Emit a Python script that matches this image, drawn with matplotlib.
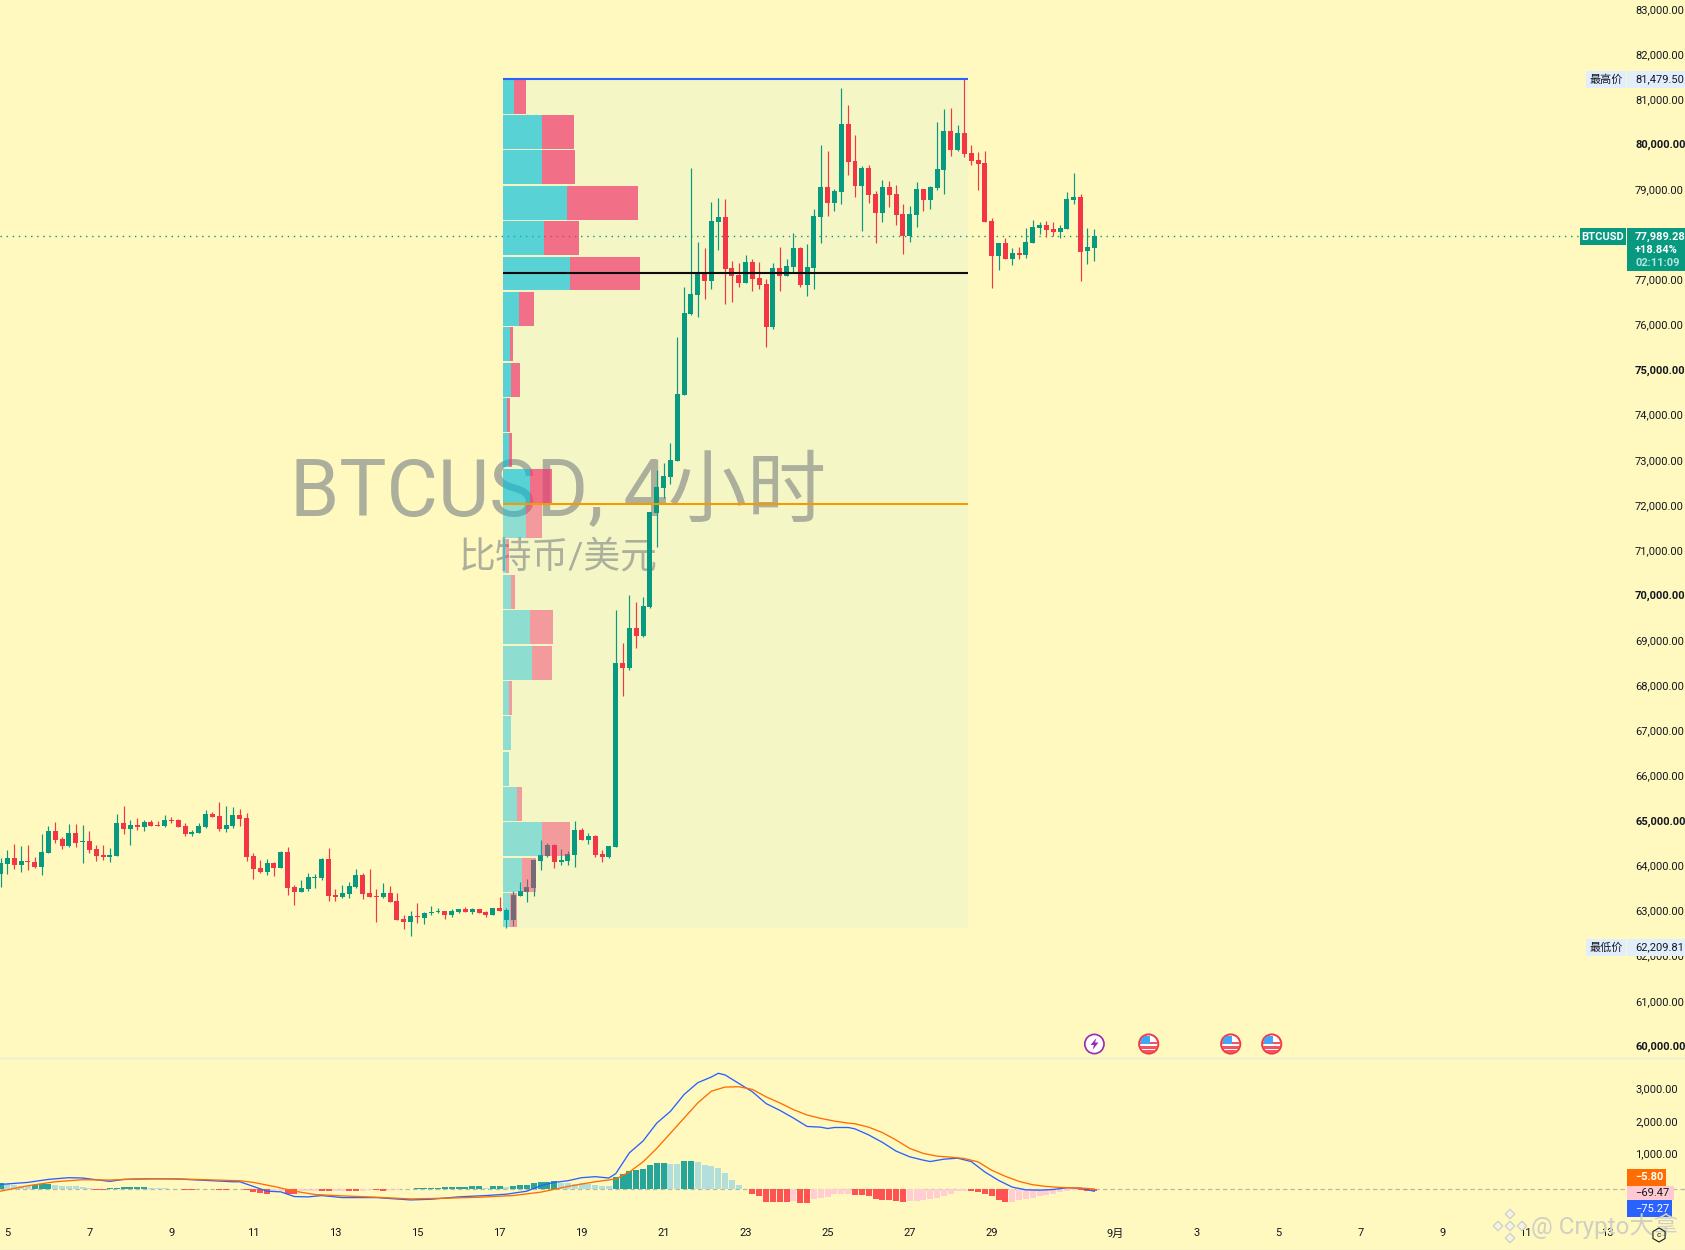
import matplotlib
matplotlib.use("Agg")
import matplotlib.pyplot as plt
from matplotlib.patches import Circle, Polygon, Rectangle, RegularPolygon
from matplotlib.transforms import ScaledTranslation

plt.rcParams['font.family'] = ['Roboto', 'Noto Sans CJK SC', 'DejaVu Sans']

# 4h candles
opens = [63845,64067,64200,64045,64133,64111,64000,64311,64799,64621,
         64466,64755,64555,64577,64400,64267,64222,64244,64976,64843,
         64932,64888,64998,64932,64910,65043,65043,64910,64732,64755,
         64888,65176,65132,64843,64910,65154,65087,64244,63978,63890,
         64089,63978,64333,63557,63446,63512,63756,63756,64178,63380,
         63335,63402,63557,63823,63424,63357,63335,63424,63246,62847,
         62781,62914,62869,62980,63002,63025,62936,63002,63069,63002,
         63069,63002,62936,63091,62825,62825,63357,63446,63535,64133,
         64244,64488,64111,64137,64272,64824,64595,64680,64289,64230,
         64451,68525,68423,69297,69127,69772,71852,72412,72658,73006,
         74475,76267,76688,77176,76998,78307,78418,77287,77131,76954,
         77420,77065,76932,75978,77287,77109,77309,77730,76910,77287,
         78418,79083,78728,78972,80481,79660,79105,79505,78928,78507,
         79083,78928,78484,77996,78462,79039,78795,79061,79460,80325,
         79904,80281,79837,79682,79616,78329,77553,77841,77486,77619,
         77575,77841,78174,78240,78152,78085,78152,78795,78861,77664,
         77730]
highs = [64193,64377,64511,64466,64488,64222,64732,64910,64998,64666,
         64954,64954,64932,64799,64488,64488,64422,65176,65353,65043,
         65087,65043,65043,65021,65154,65109,65065,64976,64821,64976,
         65265,65220,65442,65353,65331,65287,65198,64304,64156,64178,
         64111,64355,64444,63601,63712,63867,63845,64200,64422,63512,
         63601,63668,63956,63867,63956,63512,63646,63579,63424,62936,
         63025,63202,63002,63135,63091,63025,63069,63069,63113,63091,
         63069,63025,63091,63335,63091,63468,63668,63734,64178,64599,
         64533,64511,64400,64349,65011,64858,64756,64705,64374,64476,
         69705,68966,70036,69874,69993,71878,72803,72964,73405,75756,
         76865,79505,77863,77730,78751,78839,78817,77442,77398,77575,
         77486,77420,77043,77398,77753,77486,78063,77753,77819,78595,
         80015,79882,79039,81279,80902,80237,79549,79571,78995,79238,
         79216,79128,78706,78662,79194,79039,79105,80525,80813,80835,
         80458,81479,80015,79859,79882,78396,77841,77952,77730,77753,
         78174,78351,78307,78329,78307,78240,78972,79394,78928,78174,
         78152]
lows = [63557,63845,63956,63890,63934,63978,63823,64311,64533,64400,
        64444,64444,64089,64311,64133,64156,64111,64244,64732,64488,
        64821,64799,64910,64910,64888,64976,64888,64688,64688,64755,
        64865,65109,64799,64777,64865,64910,64133,63734,63867,63823,
        63801,63978,63380,63158,63446,63468,63535,63712,63246,63246,
        63313,63313,63535,63291,63335,62781,63313,63224,62825,62625,
        62470,62758,62736,62936,62980,62847,62891,62980,63002,62958,
        62980,62891,62936,63025,62647,62692,63357,63224,63357,63934,
        64215,63978,64035,64052,64009,64603,64518,64230,64120,64204,
        64434,67803,68380,68864,69110,69755,71088,72183,72497,73006,
        74460,76244,76200,76599,76821,77686,76488,76533,76865,76954,
        76777,76821,75535,75934,76777,77109,77198,76865,76666,76821,
        77841,78440,78551,78706,79349,78862,78107,78728,77841,78307,
        78640,78240,77597,77863,78196,78551,78595,79017,78928,79771,
        79882,79749,79571,79017,78307,76843,77242,77486,77353,77486,
        77509,77841,78041,77974,77996,77952,78152,78706,76998,77376,
        77442]
closes = [64089,64200,64045,64133,64111,64000,64333,64799,64599,64466,
          64755,64533,64577,64377,64244,64222,64267,64976,64843,64932,
          64888,64998,64910,64910,65043,65021,64888,64732,64777,64910,
          65176,65109,64843,64932,65154,65065,64222,63956,63890,64089,
          63978,64333,63535,63446,63535,63779,63779,64178,63357,63335,
          63424,63579,63823,63402,63335,63335,63424,63224,62825,62781,
          62914,62891,62980,63002,63025,62936,63025,63069,63002,63069,
          62980,62936,63091,63025,63047,63380,63468,63557,64156,64267,
          64488,64111,64162,64281,64824,64603,64688,64272,64221,64468,
          68525,68414,69297,69127,69789,71878,72429,72675,73032,74492,
          76289,76710,77176,76998,78329,78418,77265,77109,76954,77420,
          77043,76910,75978,77287,77109,77331,77730,76910,77309,78440,
          79083,78728,78995,80481,79638,79105,79505,78906,78507,79083,
          78906,78462,77996,78484,79039,78795,79083,79482,80325,79904,
          80281,79815,79660,79593,78307,77553,77841,77486,77619,77575,
          77863,78196,78240,78130,78085,78174,78817,78861,77642,77753,
          77989]

# volume profile rows, top row first (row width read as volume)
vp_up = [11.1,39,39,63.9,40.9,67,16,6.9,8,4,6.3,27,
         23,3.3,8,27,29,6.3,8,6,14,39,19,7]
vp_down = [11.9,31.8,32.9,71.2,34.8,70,14.9,3.1,9,3,2.7,22.3,
           16,2.7,4,23,20,2.7,0,0,5,28,14,7]
vp_high = 81479.5
vp_low = 62651
poc_price = 77183
val_price = 72056
last_price = 77989.28

price_ticks = list(range(60000, 84000, 1000))

# MACD pane
hist = [175,134,113,93,72,113,134,134,103,93,93,72,41,21,-31,-31,21,31,41,41,
        41,41,31,31,21,-10,-21,-31,-31,-21,-21,-10,-31,-31,-10,-10,-31,-93,-134,-155,
        -72,-52,-155,-165,-62,-72,-82,-72,-82,-62,-62,-72,-62,-52,-31,-41,-62,-41,-31,-21,
        -10,10,10,21,21,41,52,52,62,82,82,31,72,82,52,93,113,124,165,196,
        196,227,185,165,155,165,155,103,82,82,350,443,536,567,597,721,783,783,752,752,
        845,845,824,721,690,628,484,278,124,-10,-144,-227,-391,-391,-412,-412,-371,-443,-443,-309,
        -278,-247,-155,-144,-144,-175,-185,-227,-309,-330,-330,-361,-412,-381,-361,-330,-309,-278,-227,-155,
        -82,-52,-62,-103,-144,-206,-340,-412,-391,-350,-309,-268,-227,-185,-144,-103,-62,-31,-41,-52,
        -69]
hist_strong = [0,5,6,7,14,15,16,17,18,19,20,21,25,26,27,28,32,33,36,37,38,39,42,43,47,48,51,52,55,56,
               61,62,63,64,65,66,67,68,69,70,72,73,75,76,77,78,79,80,81,
               90,91,92,93,94,95,96,97,100,101,109,110,111,112,113,114,115,117,118,
               125,126,127,128,129,130,131,132,142,143,144,145,146,147,158,159,160]

macd_x = [0,4,7,10,12,14,16,18,22,26,30,34,35,37,39,41,43,45,47,50,55,60,63,67,71,74,77,79,81,83,
          85,87,89,90,92,94,96,98,100,102,104,105,106,108,110,112,114,116,118,120,121,122,124,
          125,127,129,131,133,135,136,138,140,142,144,146,148,150,152,154,156,158,160]
macd_line = [134,196,288,340,330,278,227,288,309,299,258,216,216,72,-72,-93,-237,-247,-206,-268,
             -268,-340,-319,-247,-206,-165,-72,93,196,247,340,371,330,464,1102,1463,2009,2369,2884,3245,
             3420,3533,3481,3224,2966,2606,2400,2163,1906,1885,1844,1875,1875,
             1833,1648,1421,1154,979,876,834,906,937,834,515,258,52,-31,-41,-21,31,21,-75]
signal_x = [0,4,8,12,16,20,25,30,35,37,40,43,46,50,55,60,65,70,75,79,83,87,90,92,94,96,98,100,102,
            104,106,108,110,112,114,116,118,120,122,124,125,127,129,131,133,135,137,139,141,143,145,
            147,149,151,153,155,157,159,160]
signal_line = [-72,93,216,278,268,299,309,278,247,196,72,-72,-175,-216,-258,-309,-288,-258,-206,-103,
               72,216,299,515,824,1236,1700,2163,2627,2987,3111,3121,3039,2812,2627,2421,2256,2153,2070,2009,
               1988,1885,1720,1494,1236,1082,999,968,927,824,567,381,227,124,72,41,31,10,-6]
macd_ticks = [1000, 2000, 3000]

# time axis: bar index of each date label
date_pos = [1,13,25,37,49,61,73,85,97,109,121,133,145,163,175,187,199,211,223,235]
date_labels = ['5','7','9','11','13','15','17','19','21','23','25','27','29',
               '9月','3','5','7','9','11','13']

BG = '#fff9c0'
GREEN = '#089981'
RED = '#f23645'
INK = '#131722'
W, H = 1685, 1250
PANE = 1058
BAR_PX = 6.836

fig = plt.figure(figsize=(W / 100, H / 100), dpi=100, facecolor=BG)
ax = fig.add_axes([0, 1 - PANE / H, 1, PANE / H], facecolor=BG)
ax2 = fig.add_axes([0, 0, 1, 1 - PANE / H], facecolor=BG)
ov = fig.add_axes([0, 0, 1, 1], zorder=10)  # pixel overlay for the tags and icons
ov.set_xlim(0, W)
ov.set_ylim(H, 0)
ov.axis('off')

x_min, x_max = -0.5 / BAR_PX, (W - 0.5) / BAR_PX
for a in (ax, ax2):
    a.set_xlim(x_min, x_max)
    for s in a.spines.values():
        s.set_visible(False)
ax.set_ylim(59764, 83231)
ax2.set_ylim(-1871, 4000)

# price pane
vp_left, vp_right = 73.5, 141.5
ax.add_patch(Rectangle((vp_left, vp_low), vp_right - vp_left, vp_high - vp_low,
                       facecolor='#f4f6c6', edgecolor='none', zorder=1))
ax.text(558, 493, 'BTCUSD, 4小时', transform=ov.transData, fontsize=57, color='#abaf9b',
        ha='center', va='center', zorder=2)
ax.text(558, 557, '比特币/美元', transform=ov.transData, fontsize=26.5, color='#abaf9b',
        ha='center', va='center', zorder=2)
ax.hlines(last_price, x_min, (1580 - 0.5) / BAR_PX, color=GREEN, lw=1,
          linestyle=(0, (1, 3.4)), zorder=2.5)

x = list(range(len(opens)))
colors = [GREEN if c >= o else RED for o, c in zip(opens, closes)]
ax.vlines(x, lows, highs, color=colors, lw=0.85, zorder=3)
ax.bar(x, [abs(c - o) for o, c in zip(opens, closes)], bottom=[min(o, c) for o, c in zip(opens, closes)],
       width=0.73, color=colors, zorder=3)

# volume profile sits on top of the candles
row_h = (vp_high - vp_low) / len(vp_up)
for i in range(len(vp_up)):
    y = vp_high - row_h * (i + 0.5)
    strong = i < 12
    u = vp_up[i] / BAR_PX
    d = vp_down[i] / BAR_PX
    ax.barh(y, u, left=vp_left, height=row_h * 0.96, color='#00bfde',
            alpha=0.64 if strong else 0.42, zorder=4)
    ax.barh(y, d, left=vp_left + u, height=row_h * 0.96, color='#f2366e',
            alpha=0.7 if strong else 0.47, zorder=4)

ax.hlines(vp_high, vp_left, vp_right, color='#2962ff', lw=1.5, zorder=5)
ax.hlines(poc_price, vp_left, vp_right, color='#0c0c0c', lw=1.5, zorder=5)
ax.hlines(val_price, vp_left, vp_right, color='#f59a00', lw=1.5, zorder=5)

ax.yaxis.tick_right()
ax.set_yticks(price_ticks)
ax.set_yticklabels([f'{p:,.2f}' for p in price_ticks])
ax.tick_params(axis='y', length=0, pad=-36, labelsize=8, labelcolor=INK)
ax.set_xticks([])
shift = ScaledTranslation(0, 1.5 / 100, fig.dpi_scale_trans)
for p, lbl in zip(price_ticks, ax.get_yticklabels()):
    lbl.set_transform(lbl.get_transform() + shift)
    if p % 5000 == 0:
        lbl.set_fontweight('bold')

# MACD pane
ax2.axhline(0, color='#b8b8a8', lw=0.9, linestyle=(0, (3.5, 2.5)), zorder=1)
hist_colors = []
for i, v in enumerate(hist):
    if v >= 0:
        hist_colors.append('#26a69a' if i in hist_strong else '#b2dfdb')
    else:
        hist_colors.append('#ff5252' if i in hist_strong else '#ffcdd2')
ax2.bar(range(len(hist)), hist, width=0.88, color=hist_colors, zorder=2)
ax2.plot(macd_x, macd_line, color='#2962ff', lw=0.95, zorder=3)
ax2.plot(signal_x, signal_line, color='#ff6d00', lw=0.95, zorder=3)

ax2.yaxis.tick_right()
ax2.set_yticks(macd_ticks)
ax2.set_yticklabels([f'{v:,.2f}' for v in macd_ticks])
ax2.tick_params(axis='y', length=0, pad=-36, labelsize=8, labelcolor=INK)
shift2 = ScaledTranslation(0, 2.5 / 100, fig.dpi_scale_trans)
for lbl in ax2.get_yticklabels():
    lbl.set_transform(lbl.get_transform() + shift2)
ax2.set_xticks(date_pos)
ax2.set_xticklabels(date_labels)
ax2.tick_params(axis='x', length=0, pad=-15.5, labelsize=8, labelcolor=INK)

# pane borders
ov.plot([0, W], [PANE, PANE], color='#e8e8dc', lw=1)
ov.plot([0, W], [1249.5, 1249.5], color='#e8e8dc', lw=1)


def box(x0, y0, x1, y1, color):
    ov.add_patch(Rectangle((x0, y0), x1 - x0, y1 - y0, facecolor=color, edgecolor='none'))


def tag(x0, y, s, color=INK, weight='normal', size=8, ha='left'):
    ov.text(x0, y, s, color=color, fontweight=weight, fontsize=size, ha=ha, va='center')


# high / low tags
box(1586, 71, 1626, 88, '#e3eefc')
box(1627, 71, W, 88, '#e3eefc')
tag(1606, 80, '最高价', size=8, ha='center')
tag(1635, 79.5, '81,479.50')
box(1586, 939, 1626, 956, '#e3eefc')
box(1627, 939, W, 956, '#e3eefc')
tag(1606, 948, '最低价', size=8, ha='center')
tag(1635, 947.5, '62,209.81')

# last price tag
box(1580, 228, 1626, 245, GREEN)
box(1627, 228, W, 271, GREEN)
tag(1603, 237.5, 'BTCUSD', color='white', weight='bold', ha='center')
tag(1635, 237, '77,989.28', color='white', weight='bold')
tag(1635, 250, '+18.84%', color='white', weight='bold')
tag(1635, 263, '02:11:09', color='#b5e5dc', weight='bold')

# MACD tags
box(1627, 1168.5, 1666, 1185.6, '#ff6d00')
box(1627, 1185.6, 1674, 1200, '#ffc9d2')
box(1627, 1200, 1672, 1217, '#2962ff')
tag(1635, 1177, '−5.80', color='white', weight='bold')
tag(1635, 1192.5, '−69.47')
tag(1635, 1208.5, '−75.27', color='white')

# event icons
ev_y = 1044
ov.add_patch(Circle((1094.4, ev_y), 9.6, facecolor='white', edgecolor='#9c27b0', lw=1.2))
ov.add_patch(Polygon([(1096.5, ev_y - 6), (1090.5, ev_y + 1), (1094, ev_y + 1), (1092.5, ev_y + 6),
                      (1098.5, ev_y - 1.5), (1095, ev_y - 1.5)], facecolor='#9c27b0', edgecolor='none'))
for cx in (1148.7, 1230.7, 1271.7):
    ring = Circle((cx, ev_y), 9.6, facecolor='white', edgecolor='#f23645', lw=1.4, zorder=3)
    ov.add_patch(ring)
    for k in range(3):
        stripe = Rectangle((cx - 10, ev_y - 2 + k * 4.2), 20, 2.3, facecolor='#f7525f', edgecolor='none', zorder=3.1)
        ov.add_patch(stripe)
        stripe.set_clip_path(Circle((cx, ev_y), 9, transform=ov.transData))
    canton = Rectangle((cx - 8, ev_y - 8), 9, 7.5, facecolor='#42a5f5', edgecolor='none', zorder=3.2)
    ov.add_patch(canton)
    canton.set_clip_path(Circle((cx, ev_y), 9, transform=ov.transData))

# source watermark and the small gear
wm = '#cfcfc4'
ov.text(1531, 1226, '@ Crypto大拿', color=wm, fontsize=17.5, ha='left', va='center', zorder=6)
for dx, dy in [(0, -12), (0, 12), (-12, 0), (12, 0), (0, 0)]:
    ov.add_patch(RegularPolygon((1510 + dx, 1226 + dy), 4, radius=4.8, facecolor='#f4f3e4',
                                edgecolor=wm, lw=0.9, zorder=6))
ov.add_patch(RegularPolygon((1659, 1235), 6, radius=7, facecolor='none', edgecolor=INK, lw=0.8, zorder=7))
ov.text(1659, 1235, 'c', color=INK, fontsize=6, ha='center', va='center', zorder=7)

fig.savefig('out.png', dpi=100, facecolor=BG)
